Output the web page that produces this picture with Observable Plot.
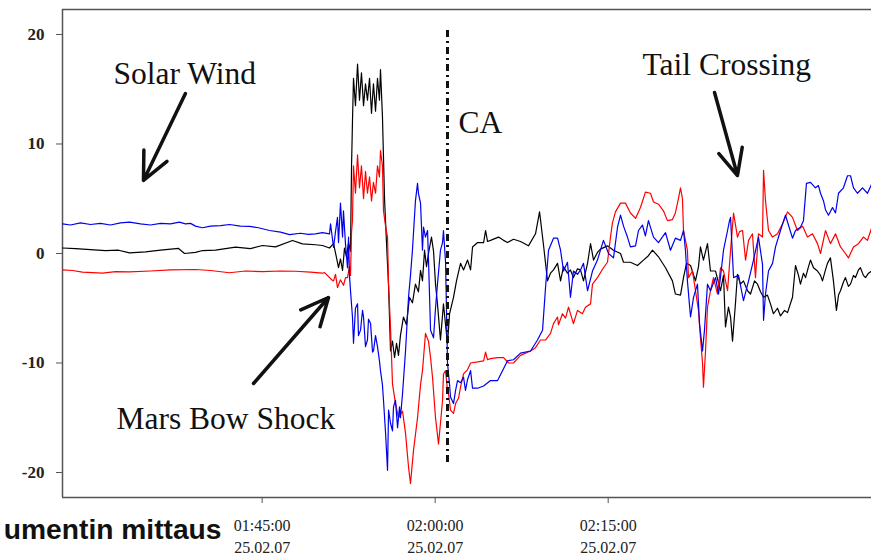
<!DOCTYPE html>
<html><head><meta charset="utf-8">
<script src="https://cdn.jsdelivr.net/npm/d3@7"></script>
<script src="https://cdn.jsdelivr.net/npm/@observablehq/plot@0.6"></script>
<style>html,body{margin:0;padding:0;background:#fff;overflow:hidden;} #chart{width:871px;height:556px;overflow:hidden;}</style>
</head><body><div id="chart"></div><script>
// time: minutes after 01:00:00 UTC on 25.02.2007; value: field component
const blackSeries = [
[27.69,0.5],[28.82,0.45],[30.12,0.35],[31.42,0.27],[32.55,0.3],[33.50,0.06],[34.89,0.15],[36.19,0.3],[37.75,0.46],[38.27,0.0],[39.22,0.1],[39.83,0.27],[40.95,0.3],[42.69,0.58],[43.99,0.45],[45.03,0.73],[46.16,0.6],[47.63,1.19],[48.50,0.88],[49.62,0.8],[50.23,0.73],[50.84,0.5],[51.19,0.9],[51.45,-0.4],[51.62,-1.3],[51.79,-0.5],[51.97,-1.55],[52.14,0.5],[52.31,-0.3],[52.49,1.0],[52.66,0.2],[52.75,8],[52.83,12],[52.92,16],[53.09,13.5],[53.27,17.3],[53.44,14],[53.61,16.5],[53.79,13.5],[53.96,15.5],[54.13,14],[54.31,16],[54.48,12.8],[54.65,15.5],[54.83,13],[55.00,16],[55.17,14],[55.26,16.8],[55.43,12.5],[55.61,5],[55.78,1],[55.96,-3],[56.13,-8.9],[56.30,-8],[56.48,-9.5],[56.65,-8.2],[56.82,-9.3],[56.99,-7.5],[57.25,-5.8],[57.51,-6.5],[57.77,-4],[58.03,-4.5],[58.29,-2.8],[58.55,-3.5],[58.73,-1.55],[58.90,-2.5],[59.08,0.3],[59.25,-1.2],[59.42,0],[59.68,1.5],[59.86,0.2],[60.03,-2.8],[60.20,-4.6],[60.46,-7.9],[60.72,-4.6],[60.90,-6.5],[61.07,-8.2],[61.25,-5.5],[61.59,-4],[61.85,-2.5],[62.20,-0.9],[62.46,-1.5],[62.81,-0.6],[63.07,-1.5],[63.24,0.6],[63.68,1.0],[64.20,1.0],[64.37,2.1],[64.54,1.1],[64.80,1.2],[65.49,1.5],[65.93,1.2],[66.27,1.0],[66.79,1.3],[67.40,1.1],[68.09,0.7],[68.70,1.8],[69.05,3.8],[69.39,0.8],[69.74,-2.5],[70.00,-1.8],[70.26,-1.5],[70.61,-0.9],[70.87,-2.5],[71.13,-1.2],[71.47,-1.8],[71.73,-1.5],[71.99,-2.2],[72.34,-1.4],[72.60,-1.5],[72.86,-2.5],[73.21,-0.9],[73.47,0.9],[73.73,-0.6],[74.07,0.1],[74.33,0.4],[74.94,0.7],[75.46,0.3],[76.07,0],[76.33,-0.8],[76.93,-0.8],[77.54,-1.1],[78.06,-0.6],[78.49,-0.2],[78.84,0.3],[79.36,-0.3],[79.97,-1.3],[80.57,-2.5],[80.83,-3.7],[81.27,-3.8],[81.53,-2.2],[81.79,-0.9],[82.14,-1.1],[82.57,-2.5],[82.83,-1.2],[83.00,0.6],[83.26,-0.6],[83.61,0.9],[83.87,-1.6],[84.31,-1.6],[84.74,-3.4],[85.00,-2.0],[85.17,-6.7],[85.43,-4.9],[85.61,-5.8],[85.78,-8.0],[86.04,-4.5],[86.21,-1.9],[86.47,-2.8],[86.73,-2.5],[87.08,-3.4],[87.34,-3.7],[87.69,-2.5],[87.95,-2.8],[88.21,-3.5],[88.47,-4.0],[88.81,-3.8],[89.07,-4.6],[89.33,-5.5],[89.68,-5.0],[89.94,-5.7],[90.29,-5.2],[90.55,-5.4],[90.98,-4.0],[91.24,-1.1],[91.50,-2.0],[91.67,-2.8],[91.93,-1.8],[92.11,-2.2],[92.37,-1.2],[92.54,-0.6],[92.80,-1.3],[93.15,-1.6],[93.41,-2.0],[93.58,-2.5],[93.84,-1.5],[94.01,-0.9],[94.27,-0.4],[94.53,-2.5],[94.79,-5.2],[94.97,-3.8],[95.14,-3.4],[95.40,-2.6],[95.57,-2.2],[95.83,-3.0],[96.01,-2.8],[96.27,-2.0],[96.44,-2.2],[96.70,-1.5],[96.87,-1.3],[97.13,-2.0],[97.31,-2.2],[97.57,-1.8],[97.83,-1.6]
];
const blueSeries = [
[27.69,2.7],[28.38,2.6],[29.25,2.8],[30.12,2.65],[30.98,2.75],[31.85,2.6],[32.72,2.8],[33.50,2.86],[34.45,2.7],[35.32,2.6],[36.19,2.75],[37.05,2.7],[37.83,2.86],[38.35,2.7],[38.79,2.75],[39.22,2.5],[39.83,2.35],[40.52,2.5],[41.39,2.55],[42.17,2.65],[43.12,2.5],[43.90,2.47],[44.68,2.35],[45.64,2.1],[46.59,1.95],[47.37,1.73],[48.32,1.85],[49.02,1.75],[49.62,1.79],[50.23,1.9],[50.84,1.8],[50.93,2.7],[51.19,0.55],[51.36,2.0],[51.53,3.3],[51.62,1.0],[51.79,4.6],[51.97,1.5],[52.05,3.9],[52.23,0.8],[52.40,-1.3],[52.49,1.5],[52.57,-2.0],[52.66,-3.4],[52.83,-5.8],[52.92,-8.2],[53.09,-5.0],[53.27,-4.6],[53.35,-7.5],[53.53,-7.0],[53.70,-5.2],[53.79,-5.8],[53.96,-8.5],[54.13,-7.9],[54.22,-6.0],[54.40,-6.4],[54.57,-9.0],[54.65,-8.9],[54.83,-7.5],[55.00,-8.5],[55.17,-9.8],[55.26,-10.7],[55.43,-12.0],[55.52,-13.4],[55.70,-16.4],[55.87,-19.8],[55.96,-14.3],[56.13,-15.5],[56.30,-16.2],[56.39,-14.0],[56.56,-13.4],[56.74,-15.9],[56.91,-14.0],[56.99,-15.0],[57.17,-12.8],[57.43,-8.9],[57.69,-4.0],[57.86,-2.0],[58.03,0.3],[58.29,4.8],[58.47,6.4],[58.55,5.5],[58.73,4.6],[58.90,0.3],[58.99,2.4],[59.16,1.5],[59.34,2.1],[59.42,-0.5],[59.60,-7.0],[59.86,-7.7],[60.03,-5.0],[60.20,-2.8],[60.46,0.3],[60.64,1.0],[60.72,2.1],[60.90,-0.8],[61.07,-10.0],[61.25,-12.0],[61.33,-13.1],[61.59,-13.7],[61.77,-12.5],[61.94,-11.6],[62.20,-11.8],[62.46,-11.3],[62.63,-12.5],[62.81,-11.5],[63.07,-10.7],[63.24,-12.3],[63.68,-12.3],[64.20,-12.1],[64.80,-11.6],[65.41,-11.6],[65.84,-10.7],[66.27,-9.8],[66.79,-9.7],[67.40,-9.1],[68.27,-8.9],[68.87,-7.9],[69.31,-7.0],[69.57,-3.1],[69.83,0.3],[70.26,1.4],[70.61,1.4],[70.87,0.3],[71.13,-1.6],[71.47,-0.8],[71.73,-4.0],[71.99,-1.6],[72.34,-1.9],[72.60,-1.5],[72.86,-0.9],[73.21,-3.4],[73.64,-1.6],[74.07,-0.6],[74.59,1.2],[75.03,0.0],[75.46,-0.4],[75.81,2.4],[76.07,3.5],[76.33,2.5],[76.67,1.5],[76.93,0.6],[77.37,0.7],[77.63,2.1],[77.97,2.6],[78.23,1.6],[78.49,3.0],[78.93,1.5],[79.36,1.0],[79.97,1.9],[80.40,0.3],[80.83,1.4],[81.27,1.2],[81.53,2.1],[81.70,0.3],[81.87,-2.5],[82.14,-5.8],[82.40,-4.0],[82.74,-2.8],[82.92,-6.4],[83.18,-8.9],[83.35,-7.0],[83.61,-2.8],[83.87,-3.4],[84.31,-2.2],[84.57,-3.7],[85.00,0.3],[85.35,2.1],[85.52,3.0],[85.61,3.3],[85.87,-2.2],[86.30,-2.0],[86.73,-4.3],[87.17,-2.5],[87.60,-0.6],[88.03,1.5],[88.38,-1.0],[88.47,-6.1],[88.64,-3.7],[88.90,-1.6],[89.25,-0.9],[89.51,0.6],[89.94,2.1],[90.37,3.5],[90.63,2.6],[90.98,1.4],[91.24,2.1],[91.67,2.4],[91.93,3.0],[92.19,6.4],[92.54,6.5],[92.97,6.0],[93.23,6.2],[93.41,5.5],[93.67,4.8],[93.84,4.0],[94.10,3.5],[94.45,4.2],[94.71,3.7],[94.97,5.5],[95.40,6.0],[95.75,7.1],[96.01,7.1],[96.27,6.0],[96.61,5.5],[97.05,6.0],[97.48,5.5],[97.83,6.3]
];
const redSeries = [
[27.69,-1.5],[28.56,-1.55],[29.42,-1.7],[31.16,-1.8],[32.29,-1.65],[33.50,-1.68],[35.32,-1.6],[37.05,-1.5],[39.22,-1.46],[40.52,-1.55],[42.17,-1.76],[43.55,-1.6],[45.03,-1.66],[46.59,-1.6],[47.89,-1.62],[49.19,-1.7],[50.23,-1.8],[50.41,-1.75],[51.10,-2.47],[51.19,-2.5],[51.36,-1.9],[51.53,-3.1],[51.79,-2.4],[52.05,-2.9],[52.23,-2.2],[52.40,-2.2],[52.57,-1.2],[52.66,-2.0],[52.75,2],[52.83,3],[52.92,8],[53.09,5.5],[53.27,9],[53.44,6],[53.61,8],[53.79,5],[53.96,7.5],[54.13,5.5],[54.31,7],[54.48,4.8],[54.65,6.5],[54.83,5.5],[55.00,8],[55.17,7],[55.26,9.4],[55.43,8],[55.52,3.9],[55.70,2.5],[55.87,1.5],[55.96,-2.8],[56.13,-6.8],[56.30,-11.9],[56.56,-13.7],[56.82,-15.0],[57.17,-14.4],[57.43,-16.4],[57.69,-19.5],[57.86,-21.0],[58.12,-18.0],[58.47,-15.0],[58.73,-12.0],[58.90,-10.7],[59.16,-7.3],[59.42,-8.0],[59.60,-9.5],[59.77,-11.3],[60.03,-15.0],[60.29,-17.4],[60.46,-15.5],[60.64,-13.4],[60.72,-11.0],[60.90,-10.7],[61.07,-12.5],[61.16,-12.8],[61.33,-14.3],[61.59,-14.6],[61.77,-13.7],[62.03,-13.2],[62.20,-12.2],[62.46,-11.0],[62.81,-10.6],[63.07,-10.0],[63.68,-9.9],[64.20,-9.8],[64.37,-9.0],[64.54,-9.7],[64.80,-9.6],[65.41,-9.5],[65.93,-9.5],[66.36,-10.0],[66.79,-10.0],[67.40,-9.3],[68.27,-8.9],[68.70,-8.6],[69.13,-7.9],[69.57,-7.9],[70.00,-7.3],[70.26,-6.4],[70.61,-5.8],[70.69,-6.5],[71.04,-5.5],[71.30,-5.9],[71.56,-4.9],[71.99,-6.4],[72.34,-5.2],[72.77,-5.5],[73.03,-4.9],[73.47,-4.6],[73.64,-2.8],[74.07,-2.2],[74.59,-1.3],[74.94,-0.8],[75.20,1.5],[75.37,2.8],[75.63,3.8],[76.07,4.6],[76.50,4.6],[76.93,3.7],[77.37,3.2],[77.80,4.2],[78.23,5.6],[78.67,5.5],[78.93,4.7],[79.36,4.5],[79.79,3.9],[80.14,3.0],[80.57,3.1],[80.83,3.7],[81.09,5.0],[81.27,6.0],[81.44,5.0],[81.53,2.1],[81.87,0.3],[81.96,-2.2],[82.31,-1.6],[82.57,-3.4],[82.83,-5.2],[83.00,-7.7],[83.18,-10.0],[83.26,-12.2],[83.44,-8.9],[83.61,-4.9],[83.87,-3.4],[84.13,-2.2],[84.48,-3.7],[84.74,-1.3],[85.00,-1.6],[85.35,-3.4],[85.61,0.3],[85.87,3.7],[86.21,1.5],[86.39,2.0],[86.65,2.1],[86.91,-0.6],[87.17,1.2],[87.51,1.8],[87.77,-2.2],[88.03,1.8],[88.38,1.5],[88.47,7.6],[88.64,4.8],[88.90,2.1],[89.25,1.5],[89.68,1.8],[90.11,2.7],[90.55,3.8],[90.98,3.3],[91.41,2.1],[91.85,2.5],[92.28,1.5],[92.71,1.8],[93.15,0.9],[93.41,0.0],[93.84,2.1],[94.27,0.9],[94.71,1.8],[95.14,0.6],[95.57,0.0],[95.83,-0.4],[96.27,0.6],[96.70,0.9],[97.13,1.5],[97.48,1.2],[97.83,2.3]
];

const xDomain = [27.69, 97.83];          // minutes after 01:00
const yDomain = [-22.28, 22.28];
const yTicks = [-20, -10, 0, 10, 20];
const xTickTimes = [45, 60, 75];          // 01:45, 02:00, 02:15
const dateLabel = "25.02.07";

const labelTexts = ["Solar Wind", "Mars Bow Shock", "CA", "Tail Crossing"];
const labelTimes = [32.11, 32.37, 62.02, 77.98];
const labelValues = [16.40, -15.10, 11.93, 17.22];

const arrowFromTimes = [38.35, 44.25, 84.22];
const arrowFromValues = [14.61, -11.87, 14.70];
const arrowToTimes = [34.71, 50.75, 86.21];
const arrowToValues = [6.67, -4.02, 7.12];

const caTime = 61.07;
const caRange = [20.37, -19.18];

const cornerText = "umentin mittaus";

const base = Date.UTC(2007, 1, 25, 1, 0, 0);
const toDate = m => new Date(base + m * 60000);
const serif = '"Liberation Serif","Times New Roman",serif';
const sans = '"Liberation Sans",Arial,sans-serif';

const rows = [];
for (const [name, s] of [["black", blackSeries], ["red", redSeries], ["blue", blueSeries]]) {
  for (const [t, v] of s) rows.push({series: name, t: toDate(t), v});
}
const colors = {black: "#000000", red: "#ff0000", blue: "#0000ee"};
const fmt = d3.utcFormat("%H:%M:%S");

const chart = Plot.plot({
  width: 871, height: 556,
  marginLeft: 62, marginRight: 0, marginTop: 9, marginBottom: 59,
  style: {background: "#fff", fontFamily: serif},
  x: {type: "utc", domain: xDomain.map(toDate)},
  y: {domain: yDomain},
  marks: [
    Plot.ruleY([yDomain[1]], {stroke: "#555", strokeWidth: 1.5}),
    Plot.ruleY([yDomain[0]], {stroke: "#555", strokeWidth: 1.5}),
    Plot.ruleX([toDate(xDomain[0])], {stroke: "#555", strokeWidth: 1.5}),
    Plot.axisY({ticks: yTicks, tickSize: 6, tickPadding: 12, fontSize: 17, fontWeight: "bold", stroke: "#555", fill: "#222", label: null, tickFormat: d => String(d)}),
    Plot.axisX({ticks: xTickTimes.map(toDate), tickSize: 6, tickPadding: 11, fontSize: 16, lineHeight: 1.42, stroke: "#555", fill: "#222", label: null, tickFormat: d => fmt(d) + "\n" + dateLabel}),
    ...["black", "red", "blue"].map(name =>
      Plot.line(rows.filter(r => r.series === name), {x: "t", y: "v", stroke: colors[name], strokeWidth: 1.2})),
    Plot.ruleX([caTime], {x: toDate, y1: caRange[0], y2: caRange[1], stroke: "#111", strokeWidth: 3, strokeDasharray: "7,4,2,4"}),
    Plot.arrow(arrowFromTimes, {
      x1: (d, i) => toDate(arrowFromTimes[i]), y1: (d, i) => arrowFromValues[i],
      x2: (d, i) => toDate(arrowToTimes[i]), y2: (d, i) => arrowToValues[i],
      stroke: "#111", strokeWidth: 3.5, headLength: 13, headAngle: 50
    }),
    Plot.text(labelTexts, {
      x: (d, i) => toDate(labelTimes[i]), y: (d, i) => labelValues[i], text: d => d,
      textAnchor: "start", fontSize: 31.5, fontFamily: serif, fill: "#111"
    }),
    Plot.text([cornerText], {text: d => d, frameAnchor: "bottom-left", dx: 159, dy: 41, textAnchor: "end", fontSize: 28.2, fontWeight: "bold", fontFamily: sans, fill: "#111"})
  ]
});
document.getElementById("chart").append(chart);
</script></body></html>
